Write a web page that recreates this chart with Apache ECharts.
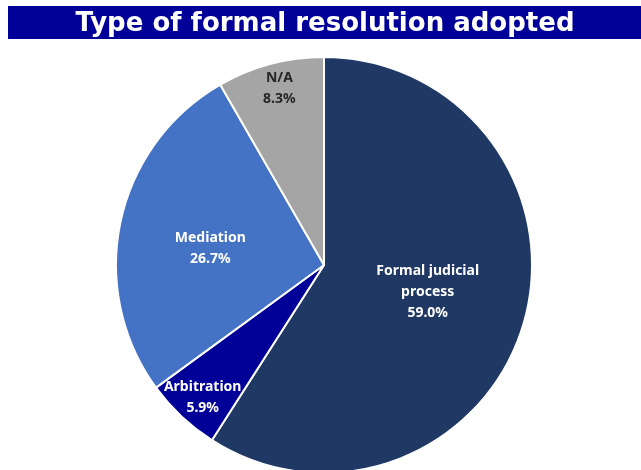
<!DOCTYPE html>
<html>
<head>
<meta charset="utf-8">
<script src="https://cdn.jsdelivr.net/npm/echarts@6/dist/echarts.min.js"></script>
<style>
  html, body { margin: 0; padding: 0; background: #fff; }
  #chart { width: 641px; height: 470px; }
</style>
</head>
<body>
<div id="chart"></div>
<script>
var categories = ["Formal judicial\nprocess", "Arbitration", "Mediation", "N/A"];
var values = [59.0, 5.9, 26.7, 8.3];
var colors = ["#203864", "#000099", "#4472C4", "#A5A5A5"];
var labelColors = ["#fff", "#fff", "#fff", "#262626"];
// extra shift of each label away from the half-radius spot
var labelOffsets = [[1, -3], [-48, 55], [-9, 6], [-17, -73]];

var myChart = echarts.init(document.getElementById("chart"));
var option = {
  animation: false,
  graphic: [
    {
      type: "rect",
      shape: { x: 8, y: 6, width: 633, height: 33 },
      style: { fill: "#000099" },
      z: 0
    }
  ],
  title: {
    text: "Type of formal resolution adopted",
    left: 320,
    top: 6,
    textAlign: "center",
    textStyle: {
      color: "#fff",
      fontFamily: "DejaVu Sans",
      fontWeight: "bold",
      fontSize: 26
    },
    z: 10
  },
  series: [
    {
      type: "pie",
      center: [324, 265],
      radius: 208,
      startAngle: 90,
      clockwise: true,
      itemStyle: { borderColor: "#fff", borderWidth: 2 },
      label: {
        show: true,
        position: "inside",
        fontFamily: "Noto Sans",
        fontWeight: "bold",
        fontSize: 14,
        lineHeight: 21,
        align: "center",
        formatter: function (p) {
          return p.name + "\n" + p.value.toFixed(1) + "%";
        }
      },
      labelLine: { show: false },
      emphasis: { disabled: true },
      data: categories.map(function (name, i) {
        return {
          name: name,
          value: values[i],
          itemStyle: { color: colors[i] },
          label: { color: labelColors[i], offset: labelOffsets[i] }
        };
      })
    }
  ]
};
myChart.setOption(option);
</script>
</body>
</html>
